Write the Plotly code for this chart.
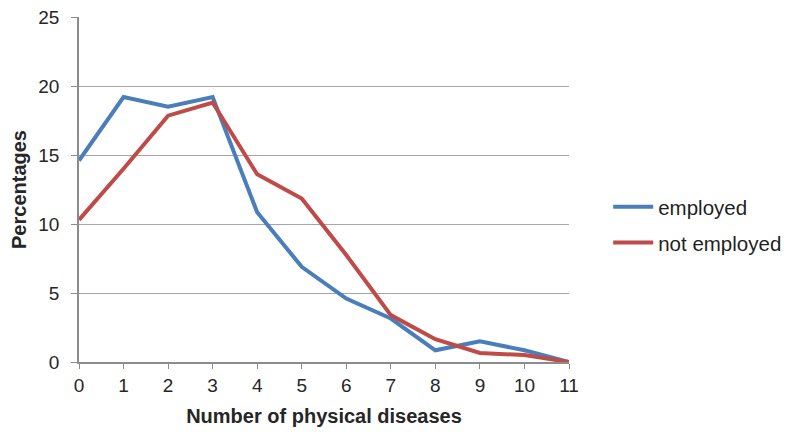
import plotly.graph_objects as go

diseases = list(range(12))
employed = [14.6, 19.2, 18.5, 19.2, 10.85, 6.9, 4.6, 3.15, 0.85, 1.5, 0.85, 0.0]
not_employed = [10.3, 14.0, 17.85, 18.8, 13.6, 11.85, 7.75, 3.4, 1.65, 0.65, 0.5, 0.0]
y_ticks = [0, 5, 10, 15, 20, 25]

fig = go.Figure()
fig.add_trace(go.Scatter(x=diseases, y=employed, mode="lines", name="employed",
                         legendgroup="a",
                         line=dict(color="#4A7EBB", width=4)))
fig.add_trace(go.Scatter(x=diseases, y=not_employed, mode="lines", name="not employed",
                         legendgroup="b",
                         line=dict(color="#BE4B48", width=4)))

font = "Liberation Sans, Arial, sans-serif"
fig.update_layout(
    width=791, height=432,
    margin=dict(l=78.5, r=221.5, t=17, b=69.5, autoexpand=False),
    plot_bgcolor="white", paper_bgcolor="white",
    font=dict(family=font, size=19, color="#262626"),
    showlegend=True,
    legend=dict(x=1.08, y=0.397, yanchor="middle", xanchor="left",
                font=dict(size=20.5, color="#1F1F1F"), tracegroupgap=6,
                traceorder="grouped", itemwidth=40),
    xaxis=dict(range=[0, 11], tickmode="array", tickvals=diseases,
               ticktext=[str(d) for d in diseases], automargin=False,
               showline=True, linecolor="#8C8C8C", linewidth=1.5,
               showgrid=False, ticks="outside", ticklen=5, tickcolor="#8C8C8C",
               zeroline=False,
               title=dict(text="<b>Number of physical diseases</b>", standoff=14,
                          font=dict(size=20))),
    yaxis=dict(range=[0, 25], tickmode="array", tickvals=y_ticks, automargin=False,
               showline=True, linecolor="#8C8C8C", linewidth=1.5,
               showgrid=True, gridcolor="#A6A6A6", gridwidth=1.2,
               ticks="outside", ticklen=6, tickcolor="#8C8C8C",
               ticklabelstandoff=8,
               zeroline=False,
               title=dict(text="<b>Percentages</b>", standoff=6,
                          font=dict(size=20))),
)

fig.write_html("out.html")
